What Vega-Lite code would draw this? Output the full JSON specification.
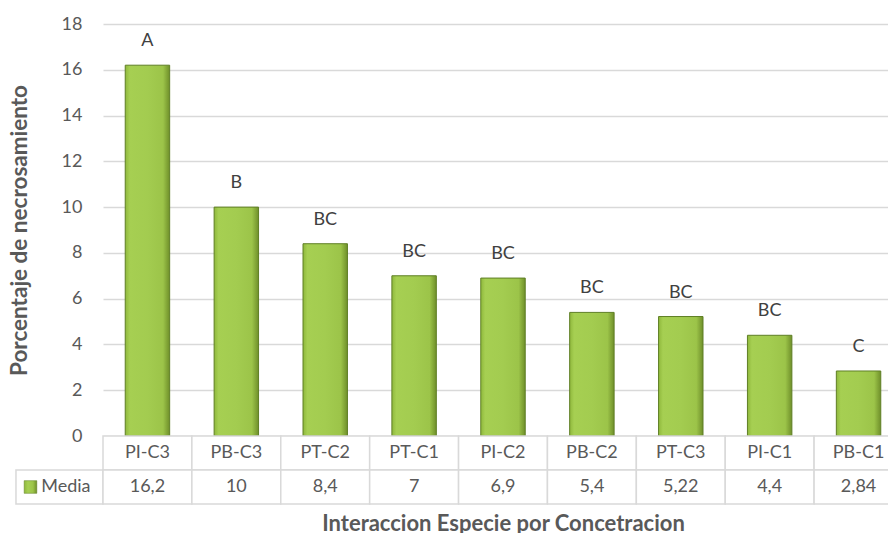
{
  "$schema": "https://vega.github.io/schema/vega-lite/v6.json",
  "padding": {"left": 0, "top": 15, "right": 0, "bottom": 0},
  "config": {
    "view": {"stroke": null},
    "font": "Lato",
    "locale": {"number": {"decimal": ",", "thousands": ".", "grouping": [3], "currency": ["", " €"]}}
  },
  "data": {"values": [
    {"trat": "PI-C3", "media": 16.2, "letra": "A"},
    {"trat": "PB-C3", "media": 10, "letra": "B"},
    {"trat": "PT-C2", "media": 8.4, "letra": "BC"},
    {"trat": "PT-C1", "media": 7, "letra": "BC"},
    {"trat": "PI-C2", "media": 6.9, "letra": "BC"},
    {"trat": "PB-C2", "media": 5.4, "letra": "BC"},
    {"trat": "PT-C3", "media": 5.22, "letra": "BC"},
    {"trat": "PI-C1", "media": 4.4, "letra": "BC"},
    {"trat": "PB-C1", "media": 2.84, "letra": "C"}
  ]},
  "columns": 2,
  "align": "each",
  "bounds": "flush",
  "spacing": 0,
  "resolve": {"scale": {"x": "independent", "y": "independent"}},
  "concat": [
    {
      "width": 103, "height": 412,
      "data": {"values": []},
      "mark": {"type": "point", "opacity": 0},
      "encoding": {}
    },
    {
      "width": 800, "height": 412,
      "encoding": {
        "x": {"field": "trat", "type": "nominal", "sort": null, "axis": null,
              "scale": {"paddingInner": 0.5, "paddingOuter": 0.25}}
      },
      "layer": [
        {
          "mark": {"type": "bar", "stroke": "#5f7f25", "strokeWidth": 1,
            "color": {"gradient": "linear", "x1": 0, "y1": 0, "x2": 1, "y2": 0,
              "stops": [
                {"offset": 0, "color": "#8fb83c"},
                {"offset": 0.1, "color": "#a6cf52"},
                {"offset": 0.5, "color": "#a3cc50"},
                {"offset": 0.85, "color": "#9cc449"},
                {"offset": 1, "color": "#6f8f2a"}
              ]}},
          "encoding": {
            "y": {"field": "media", "type": "quantitative",
              "scale": {"domain": [0, 18], "nice": false},
              "axis": {
                "values": [0, 2, 4, 6, 8, 10, 12, 14, 16, 18],
                "title": "Porcentaje de necrosamiento",
                "titleFontSize": 22.5, "titleFontWeight": "bold", "titleColor": "#595959",
                "titlePadding": 30,
                "labelFontSize": 18, "labelColor": "#595959", "labelPadding": 21,
                "ticks": false, "domain": false,
                "gridColor": "#d9d9d9", "gridWidth": 1.3
              }}
          }
        },
        {
          "mark": {"type": "text", "dy": -24, "fontSize": 18, "color": "#404040", "baseline": "middle"},
          "encoding": {
            "y": {"field": "media", "type": "quantitative"},
            "text": {"field": "letra"}
          }
        }
      ]
    },
    {
      "width": 103, "height": 68,
      "data": {"values": [{"r": "Media"}]},
      "encoding": {
        "y": {"field": "r", "type": "nominal",
          "scale": {"domain": ["cat", "Media"], "paddingInner": 0, "paddingOuter": 0},
          "axis": null}
      },
      "layer": [
        {
          "mark": {"type": "rect", "fill": "white", "stroke": "#d9d9d9", "strokeWidth": 1.5},
          "encoding": {
            "x": {"datum": 0.155, "type": "quantitative", "scale": {"domain": [0, 1], "nice": false, "zero": false}, "axis": null},
            "x2": {"datum": 1}
          }
        },
        {
          "mark": {"type": "point", "shape": "square", "size": 160, "filled": true, "opacity": 1,
            "stroke": "#5f7f25", "strokeWidth": 0.5,
            "fill": {"gradient": "linear", "x1": 0, "y1": 0, "x2": 1, "y2": 0,
              "stops": [
                {"offset": 0, "color": "#8fb83c"},
                {"offset": 0.3, "color": "#a6cf52"},
                {"offset": 0.7, "color": "#9cc449"},
                {"offset": 1, "color": "#6f8f2a"}
              ]}},
          "encoding": {"x": {"datum": 0.296, "type": "quantitative"}}
        },
        {
          "mark": {"type": "text", "align": "left", "fontSize": 18, "color": "#595959", "baseline": "middle"},
          "encoding": {
            "x": {"datum": 0.4, "type": "quantitative"},
            "text": {"field": "r"}
          }
        }
      ]
    },
    {
      "width": 800, "height": 68,
      "encoding": {
        "x": {"field": "trat", "type": "nominal", "sort": null,
          "scale": {"paddingInner": 0, "paddingOuter": 0},
          "axis": {"title": "Interaccion Especie por Concetracion", "labels": false, "ticks": false, "domain": false,
            "titleFontSize": 22, "titleFontWeight": "bold", "titleColor": "#595959", "titlePadding": 9}}
      },
      "layer": [
        {
          "mark": {"type": "rect", "fill": "white", "stroke": "#d9d9d9", "strokeWidth": 1.5},
          "encoding": {"y": {"datum": "cat", "type": "nominal",
            "scale": {"domain": ["cat", "Media"], "paddingInner": 0, "paddingOuter": 0}, "axis": null}}
        },
        {
          "mark": {"type": "rect", "fill": "white", "stroke": "#d9d9d9", "strokeWidth": 1.5},
          "encoding": {"y": {"datum": "Media", "type": "nominal"}}
        },
        {
          "mark": {"type": "text", "fontSize": 18, "color": "#595959", "baseline": "middle"},
          "encoding": {"y": {"datum": "cat", "type": "nominal"}, "text": {"field": "trat"}}
        },
        {
          "mark": {"type": "text", "fontSize": 18, "color": "#595959", "baseline": "middle"},
          "encoding": {"y": {"datum": "Media", "type": "nominal"}, "text": {"field": "media", "type": "quantitative", "format": "~g"}}
        }
      ]
    }
  ]
}
